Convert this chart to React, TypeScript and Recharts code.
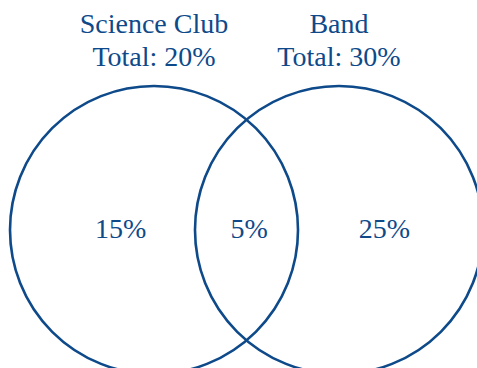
import { ScatterChart, Scatter, XAxis, YAxis } from 'recharts';

// sets in the diagram, with their totals
const setNames = ['Science Club', 'Band'];
const setTotals = [20, 30];
const setCentersX = [-1, 1];

// regions: only science club, both, only band
const regionValues = [15, 5, 25];
const regionX = [-1.36, 0.03, 1.49];

const BLUE = '#0e4a8a';
const textStyle = { fontFamily: '"Liberation Serif"', fontSize: 28 };
const RADIUS = 144;

const circles = setNames.map((name, i) => ({
  name,
  total: setTotals[i],
  x: setCentersX[i],
  y: 0,
}));

const regions = regionValues.map((value, i) => ({
  value,
  x: regionX[i],
  y: 0,
}));

const CircleShape = (props: any) => {
  const { cx, cy, payload } = props;
  return (
    <g>
      <circle cx={cx} cy={cy} r={RADIUS} fill="none" stroke={BLUE} strokeWidth={2.6} />
      <text x={cx} y={cy - 197} textAnchor="middle" fill={BLUE} style={textStyle}>
        {payload.name}
      </text>
      <text x={cx} y={cy - 164} textAnchor="middle" fill={BLUE} style={textStyle}>
        {`Total: ${payload.total}%`}
      </text>
    </g>
  );
};

const RegionLabel = (props: any) => {
  const { cx, cy, payload } = props;
  return (
    <text x={cx} y={cy + 8} textAnchor="middle" fill={BLUE} style={textStyle}>
      {`${payload.value}%`}
    </text>
  );
};

export default function App() {
  return (
    <div style={{ position: 'absolute', left: 0, top: 0, background: '#fff' }}>
      <ScatterChart width={477} height={368} margin={{ top: 0, right: 0, bottom: 0, left: 0 }}>
        <XAxis type="number" dataKey="x" domain={[-2.665, 2.492]} allowDataOverflow hide />
        <YAxis type="number" dataKey="y" domain={[-1.492, 2.486]} allowDataOverflow hide />
        <Scatter data={circles} shape={CircleShape} isAnimationActive={false} />
        <Scatter data={regions} shape={RegionLabel} isAnimationActive={false} />
      </ScatterChart>
    </div>
  );
}
